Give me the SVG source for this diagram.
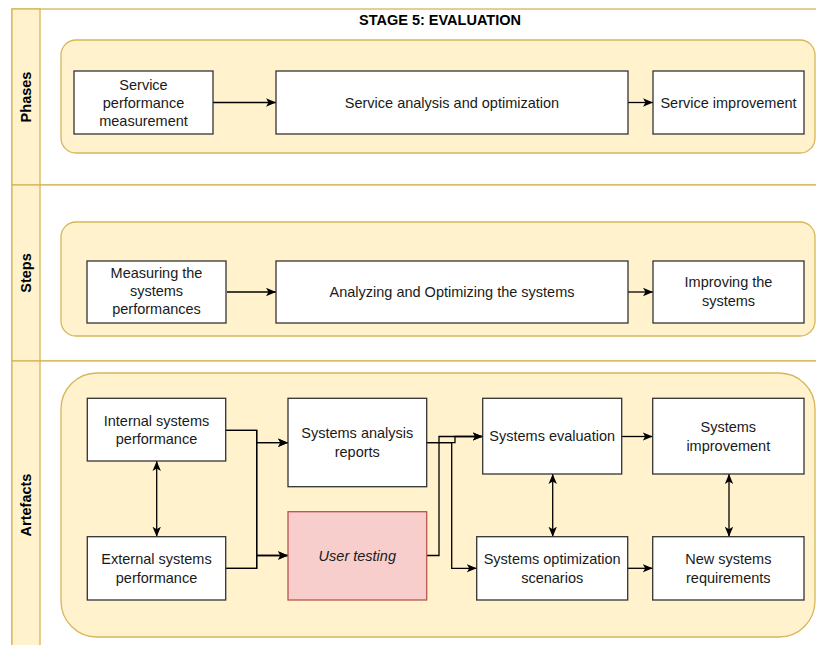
<svg xmlns="http://www.w3.org/2000/svg" width="816" height="645" viewBox="0 0 816 645">
  <style>
    .lane { fill: #ffffff; stroke: #d6b656; stroke-width: 1.3; }
    .head { fill: #fff2cc; stroke: #d6b656; stroke-width: 1.3; }
    .panel { fill: #fff2cc; stroke: #d6b656; stroke-width: 1.3; }
    .box { fill: #ffffff; stroke: #333333; stroke-width: 1.3; }
    .pink { fill: #f8cecc; stroke: #b85450; stroke-width: 1.3; }
    .t { font-family: "Liberation Sans", Arial, sans-serif; font-size: 14.5px; fill: #1a1a1a; text-anchor: middle; }
    .lbl { font-family: "Liberation Sans", Arial, sans-serif; font-size: 14.5px; font-weight: bold; fill: #000000; text-anchor: middle; }
    .edge { fill: none; stroke: #000000; stroke-width: 1.3; }
  </style>
  <defs>
    <marker id="arrow" viewBox="0 0 10 10" refX="10" refY="5" markerWidth="10" markerHeight="10" markerUnits="userSpaceOnUse" orient="auto-start-reverse">
      <path d="M0,0.8 L10,5 L0,9.2 L2.5,5 z" fill="#000000"/>
    </marker>
  </defs>

  <!-- pool frame and lanes -->
  <g id="pool">
    <rect class="lane" x="12" y="9" width="830" height="176"/>
    <rect class="lane" x="12" y="185" width="830" height="176"/>
    <rect class="lane" x="12" y="361" width="830" height="300"/>
    <rect class="head" x="12" y="9" width="28" height="176"/>
    <rect class="head" x="12" y="185" width="28" height="176"/>
    <rect class="head" x="12" y="361" width="28" height="300"/>
    <text class="lbl" x="440" y="25">STAGE 5: EVALUATION</text>
    <text class="lbl" transform="translate(31,97) rotate(-90)">Phases</text>
    <text class="lbl" transform="translate(31,273) rotate(-90)">Steps</text>
    <text class="lbl" transform="translate(31,505) rotate(-90)">Artefacts</text>
  </g>

  <!-- containers -->
  <g id="panels">
    <rect class="panel" x="61" y="40" width="754" height="113" rx="15" ry="15"/>
    <rect class="panel" x="61" y="222" width="754" height="114" rx="15" ry="15"/>
    <rect class="panel" x="61" y="373" width="754" height="264" rx="36" ry="36"/>
  </g>

  <!-- connectors -->
  <g id="connectors">
    <path class="edge" d="M213,102.5 H276" marker-end="url(#arrow)"/>
    <path class="edge" d="M628,102.5 H653" marker-end="url(#arrow)"/>
    <path class="edge" d="M227,292 H276" marker-end="url(#arrow)"/>
    <path class="edge" d="M628,292 H653" marker-end="url(#arrow)"/>

    <path class="edge" d="M156.7,461 V536.7" marker-start="url(#arrow)" marker-end="url(#arrow)"/>
    <path class="edge" d="M225.7,430.3 H256.7 V442.7 H288" marker-end="url(#arrow)"/>
    <path class="edge" d="M225.7,430.3 H256.7 V555.5 H288" marker-end="url(#arrow)"/>
    <path class="edge" d="M225.7,568.3 H256.7 V442.7 H288" marker-end="url(#arrow)"/>
    <path class="edge" d="M225.7,568.3 H256.7 V555.5 H288" marker-end="url(#arrow)"/>

    <path class="edge" d="M426.7,442.6 H455 V436.5 H482.7" marker-end="url(#arrow)"/>
    <path class="edge" d="M426.7,442.6 H451.7 V568.3 H476.7" marker-end="url(#arrow)"/>
    <path class="edge" d="M426.7,555.5 H439 V436.5 H482.7" marker-end="url(#arrow)"/>

    <path class="edge" d="M621.7,436.5 H652.7" marker-end="url(#arrow)"/>
    <path class="edge" d="M627.7,568.3 H652.7" marker-end="url(#arrow)"/>
    <path class="edge" d="M552.7,474 V536.7" marker-start="url(#arrow)" marker-end="url(#arrow)"/>
    <path class="edge" d="M729,474 V536.7" marker-start="url(#arrow)" marker-end="url(#arrow)"/>
  </g>

  <!-- phases -->
  <g id="service-performance-measurement">
    <rect class="box" x="74" y="71" width="139" height="63"/>
    <text class="t" x="143.5" y="90">Service</text>
    <text class="t" x="143.5" y="108">performance</text>
    <text class="t" x="143.5" y="126">measurement</text>
  </g>
  <g id="service-analysis-optimization">
    <rect class="box" x="276" y="71" width="352" height="63"/>
    <text class="t" x="452" y="107.5">Service analysis and optimization</text>
  </g>
  <g id="service-improvement">
    <rect class="box" x="653" y="71" width="151" height="63"/>
    <text class="t" x="728.5" y="107.5">Service improvement</text>
  </g>

  <!-- steps -->
  <g id="measuring-systems">
    <rect class="box" x="87" y="261" width="139" height="62"/>
    <text class="t" x="156.5" y="278">Measuring the</text>
    <text class="t" x="156.5" y="296">systems</text>
    <text class="t" x="156.5" y="314">performances</text>
  </g>
  <g id="analyzing-optimizing">
    <rect class="box" x="276" y="261" width="352" height="62"/>
    <text class="t" x="452" y="297">Analyzing and Optimizing the systems</text>
  </g>
  <g id="improving-systems">
    <rect class="box" x="653" y="261" width="151" height="62"/>
    <text class="t" x="728.5" y="287">Improving the</text>
    <text class="t" x="728.5" y="306">systems</text>
  </g>

  <!-- artefacts -->
  <g id="internal-performance">
    <rect class="box" x="87.3" y="398.3" width="138.4" height="62.7"/>
    <text class="t" x="156.5" y="425.5">Internal systems</text>
    <text class="t" x="156.5" y="444">performance</text>
  </g>
  <g id="external-performance">
    <rect class="box" x="87.3" y="536.7" width="138.4" height="63.3"/>
    <text class="t" x="156.5" y="564">External systems</text>
    <text class="t" x="156.5" y="583">performance</text>
  </g>
  <g id="analysis-reports">
    <rect class="box" x="288" y="398.3" width="138.7" height="88.4"/>
    <text class="t" x="357.3" y="438">Systems analysis</text>
    <text class="t" x="357.3" y="456.5">reports</text>
  </g>
  <g id="user-testing">
    <rect class="pink" x="288" y="511.7" width="138.7" height="88.3"/>
    <text class="t" x="357.3" y="560.5" font-style="italic">User testing</text>
  </g>
  <g id="systems-evaluation">
    <rect class="box" x="482.7" y="398.3" width="139" height="75.7"/>
    <text class="t" x="552.2" y="441">Systems evaluation</text>
  </g>
  <g id="systems-improvement">
    <rect class="box" x="652.7" y="398.3" width="151.3" height="75.7"/>
    <text class="t" x="728.3" y="432">Systems</text>
    <text class="t" x="728.3" y="450.5">improvement</text>
  </g>
  <g id="optimization-scenarios">
    <rect class="box" x="476.7" y="536.7" width="151" height="63.3"/>
    <text class="t" x="552.2" y="564">Systems optimization</text>
    <text class="t" x="552.2" y="583">scenarios</text>
  </g>
  <g id="new-requirements">
    <rect class="box" x="652.7" y="536.7" width="151.3" height="63.3"/>
    <text class="t" x="728.3" y="564">New systems</text>
    <text class="t" x="728.3" y="583">requirements</text>
  </g>
</svg>
